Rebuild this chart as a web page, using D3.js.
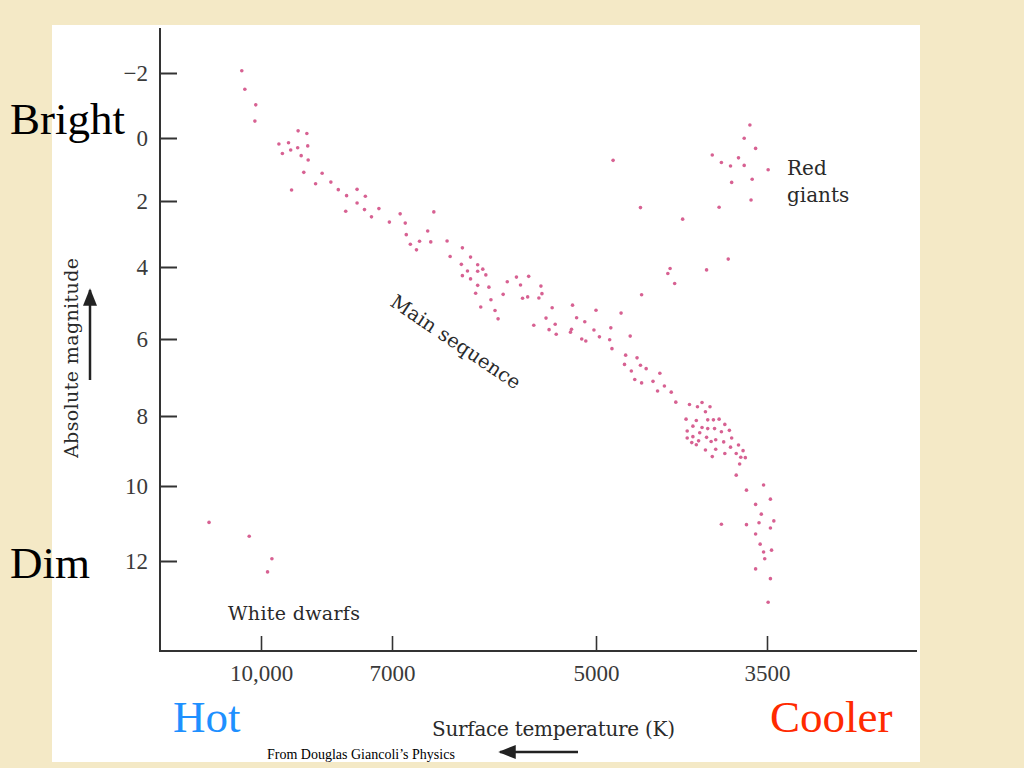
<!DOCTYPE html>
<html><head><meta charset="utf-8">
<script src="https://cdn.jsdelivr.net/npm/d3@7"></script>
<style>html,body{margin:0;padding:0;background:#f4e9c6;}svg{display:block;}</style>
</head><body>
<svg id="chart" width="1024" height="768"></svg>
<script>
// ---- data (surface temperature K, absolute magnitude) ----
const magTicks = [-2, 0, 2, 4, 6, 8, 10, 12];
const tempTicks = [10000, 7000, 5000, 3500];
const tempTickLabels = ["10,000", "7000", "5000", "3500"];

const mainTemp = [10440,10370,10120,10140,9150,8950,9590,9370,9510,9320,9160,8930,9080,8920,9020,8600,9300,8750,8400,8230,
7800,8040,7610,7800,7630,8060,7470,7300,6920,7060,6870,6590,6860,6650,6730,6820,6620,6760,6460,6430,
6310,6230,6320,6160,6260,6110,6160,6310,6230,6080,6160,6050,6180,6030,5910,5870,5780,5660,5740,5540,
5530,5560,5670,5720,6130,5990,5960,5430,5230,5000,5190,5110,4780,5490,5400,5610,5460,5240,5250,5020,
5390,4870,4970,5140,5100,4880,4700,4860,4740,4640,4750,4610,4560,4690,4440,4660,4600,4500,4400,4460,
4340,4300,4180,4070,4110,4000,4040,4210,4120,4020,3970,3920,3870,4150,4070,4020,3960,3900,3830,4200,
4090,4150,4030,4200,3950,3810,4100,3990,3880,4160,3750,3820,4120,3950,4040,3710,3770,3870,3980,3730,
3690,3740,3770,3530,3680,3470,3600,3550,3570,3440,3680,3900,3470,3600,3560,3530,3460,3520,3600,3470,3490];
const mainMag = [-2.07,-1.50,-1.02,-0.52,-0.22,-0.14,0.19,0.15,0.49,0.38,0.31,0.25,0.56,0.70,1.09,1.12,1.65,1.45,1.40,1.64,
1.63,1.83,1.85,2.06,2.26,2.31,2.48,2.23,2.39,2.64,2.67,2.33,3.02,2.91,3.22,3.31,3.24,3.48,3.21,3.68,
3.42,3.70,3.92,3.93,4.11,4.06,4.12,4.24,4.33,4.22,4.51,4.56,4.73,4.91,4.76,4.41,4.28,4.26,4.50,4.53,
4.74,4.86,4.83,4.87,5.11,5.21,5.44,5.13,5.06,5.20,5.41,5.52,5.28,5.42,5.59,5.62,5.74,5.73,5.81,5.75,
5.87,5.69,5.94,6.00,6.05,6.02,5.92,6.25,6.42,6.49,6.66,6.68,6.77,6.83,6.89,7.05,7.14,7.10,7.22,7.35,
7.38,7.64,7.70,7.65,7.76,7.76,7.89,8.09,8.13,8.11,8.11,8.09,8.24,8.29,8.33,8.36,8.36,8.45,8.41,8.43,
8.48,8.59,8.61,8.63,8.68,8.63,8.71,8.73,8.74,8.76,8.83,8.89,8.82,8.95,8.97,8.99,9.07,9.07,9.16,9.18,
9.19,9.37,9.69,9.97,10.11,10.35,10.49,10.75,10.98,10.93,11.03,11.02,11.12,11.28,11.55,11.76,11.71,11.94,12.21,12.47,13.10];

const giantTemp = [3650,3700,3600,3980,3750,3900,3820,3700,3490,3630,3810,3640,3920,4850,4610,4240,3840,4030,4350,4370,4310,4600];
const giantMag  = [-0.40,0.01,0.33,0.54,0.63,0.78,0.89,0.87,1.01,1.31,1.41,1.97,2.19,0.71,2.20,2.55,3.76,4.08,4.04,4.18,4.46,4.77];

const dwarfTemp = [11190,10270,9750,9850];
const dwarfMag  = [10.97,11.34,11.94,12.29];

// ---- drawing ----
const svg = d3.select("#chart");
const serif = "'Liberation Serif','Times New Roman',serif";
const book = "'DejaVu Serif','Liberation Serif',serif";

// slide background and white figure panel
svg.append("rect").attr("x", 0).attr("y", 0).attr("width", 1024).attr("height", 768).attr("fill", "#f4e9c6");
svg.append("rect").attr("x", 52).attr("y", 25).attr("width", 868).attr("height", 737).attr("fill", "#ffffff");

// hand-drawn (non-uniform) axes of the original figure: piecewise-linear scales
const x = d3.scaleLinear().domain(tempTicks).range([261, 392, 596, 767]);
const y = d3.scaleLinear().domain(magTicks).range([73, 138, 201, 267, 339, 416, 486, 561]);

const axisColor = "#333";
svg.append("line").attr("x1", 160).attr("x2", 160).attr("y1", 28).attr("y2", 651)
  .attr("stroke", axisColor).attr("stroke-width", 2);
svg.append("line").attr("x1", 159).attr("x2", 917).attr("y1", 651).attr("y2", 651)
  .attr("stroke", axisColor).attr("stroke-width", 2);

const yAxis = svg.append("g").attr("transform", "translate(160,0)")
  .call(d3.axisLeft(y).tickValues(magTicks).tickSize(-17).tickPadding(12)
    .tickFormat(d => d < 0 ? "\u2212" + Math.abs(d) : String(d)));
yAxis.select(".domain").remove();
yAxis.selectAll(".tick line").attr("stroke", axisColor).attr("stroke-width", 2);
yAxis.selectAll(".tick text").attr("font-family", serif).attr("font-size", 23).attr("fill", "#3a3a3a");

const xAxis = svg.append("g").attr("transform", "translate(0,651)")
  .call(d3.axisBottom(x).tickValues(tempTicks).tickSize(-15).tickPadding(14)
    .tickFormat((d, i) => tempTickLabels[i]));
xAxis.select(".domain").remove();
xAxis.selectAll(".tick line").attr("stroke", axisColor).attr("stroke-width", 1.6);
xAxis.selectAll(".tick text").attr("font-family", serif).attr("font-size", 23).attr("fill", "#3a3a3a");

// stars
const dotColor = "#d0457f";
function drawStars(temps, mags) {
  svg.append("g").selectAll("circle").data(temps.map((t, i) => [t, mags[i]])).join("circle")
    .attr("cx", d => x(d[0])).attr("cy", d => y(d[1])).attr("r", 1.8)
    .attr("fill", dotColor).attr("fill-opacity", 0.85);
}
drawStars(mainTemp, mainMag);
drawStars(giantTemp, giantMag);
drawStars(dwarfTemp, dwarfMag);

// figure annotations
const ann = "#2a2a2a";
svg.append("text").attr("x", 787).attr("y", 175).attr("font-family", book).attr("font-size", 20)
  .attr("fill", ann).text("Red");
svg.append("text").attr("x", 787).attr("y", 202).attr("font-family", book).attr("font-size", 20)
  .attr("fill", ann).text("giants");
svg.append("text").attr("x", 228).attr("y", 620).attr("font-family", book).attr("font-size", 19)
  .attr("fill", ann).attr("textLength", 132).text("White dwarfs");
svg.append("text").attr("transform", "translate(389,305) rotate(34)")
  .attr("font-family", book).attr("font-size", 19.5).attr("fill", ann)
  .attr("textLength", 152).text("Main sequence");

// axis titles
svg.append("text").attr("transform", "translate(78,458) rotate(-90)")
  .attr("font-family", book).attr("font-size", 19).attr("fill", ann)
  .attr("textLength", 200).text("Absolute magnitude");
svg.append("text").attr("x", 432).attr("y", 736).attr("font-family", book).attr("font-size", 20)
  .attr("fill", ann).attr("textLength", 243).text("Surface temperature (K)");

// arrows
svg.append("defs").html(
  '<marker id="ah" viewBox="0 0 10 10" refX="9" refY="5" markerWidth="7" markerHeight="7" orient="auto-start-reverse">' +
  '<path d="M0,1 L10,5 L0,9 Z" fill="#222"/></marker>');
svg.append("line").attr("x1", 90).attr("y1", 380).attr("x2", 90).attr("y2", 290)
  .attr("stroke", "#222").attr("stroke-width", 2.5).attr("marker-end", "url(#ah)");
svg.append("line").attr("x1", 578).attr("y1", 752).attr("x2", 500).attr("y2", 752)
  .attr("stroke", "#222").attr("stroke-width", 2.5).attr("marker-end", "url(#ah)");

// slide labels
svg.append("text").attr("x", 10).attr("y", 134).attr("font-family", serif).attr("font-size", 45)
  .attr("fill", "#000").text("Bright");
svg.append("text").attr("x", 10).attr("y", 578).attr("font-family", serif).attr("font-size", 45)
  .attr("fill", "#000").text("Dim");
svg.append("text").attr("x", 173).attr("y", 732).attr("font-family", serif).attr("font-size", 45)
  .attr("fill", "#1e90ff").text("Hot");
svg.append("text").attr("x", 770).attr("y", 732).attr("font-family", serif).attr("font-size", 45)
  .attr("fill", "#ff2a00").text("Cooler");
svg.append("text").attr("x", 267).attr("y", 759).attr("font-family", serif).attr("font-size", 14)
  .attr("fill", "#000").text("From Douglas Giancoli\u2019s Physics");
</script>
</body></html>
